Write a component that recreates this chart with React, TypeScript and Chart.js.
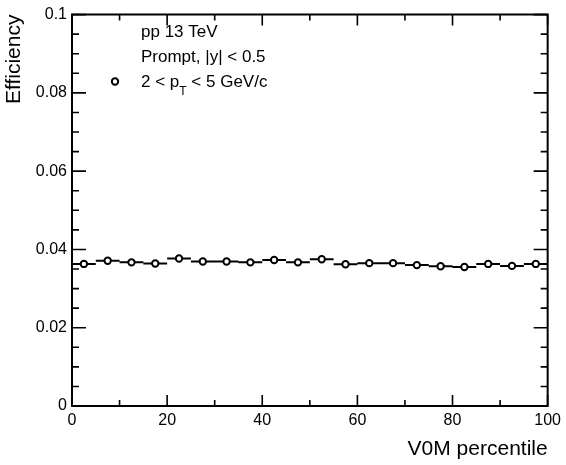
import React, { useEffect, useRef } from "react";
import { Chart, registerables } from "chart.js";

Chart.register(...registerables);

// V0M percentile bin centres and half-widths
const binCenters = [2.5, 7.5, 12.5, 17.5, 22.5, 27.5, 32.5, 37.5, 42.5, 47.5, 52.5, 57.5, 62.5, 67.5, 72.5, 77.5, 82.5, 87.5, 92.5, 97.5];
const binHalfWidth = [2.5, 2.5, 2.5, 2.5, 2.5, 2.5, 2.5, 2.5, 2.5, 2.5, 2.5, 2.5, 2.5, 2.5, 2.5, 2.5, 2.5, 2.5, 2.5, 2.5];
const efficiency = [0.0363, 0.0371, 0.0367, 0.0364, 0.0377, 0.0369, 0.0369, 0.0367, 0.0373, 0.0367, 0.0375, 0.0362, 0.0365, 0.0365, 0.0360, 0.0357, 0.0355, 0.0363, 0.0358, 0.0363];
const effErr = [0.0003, 0.0003, 0.0003, 0.0003, 0.0003, 0.0003, 0.0003, 0.0003, 0.0003, 0.0003, 0.0003, 0.0003, 0.0003, 0.0003, 0.0003, 0.0003, 0.0003, 0.0003, 0.0003, 0.0003];

const xMajorTicks = [0, 20, 40, 60, 80, 100];
const xMinorTicks = [10, 30, 50, 70, 90];
const yMajorTicks = [0, 0.02, 0.04, 0.06, 0.08, 0.1];
const yMinorTicks = [0.005, 0.01, 0.015, 0.025, 0.03, 0.035, 0.045, 0.05, 0.055, 0.065, 0.07, 0.075, 0.085, 0.09, 0.095];

const legendLines = ["pp 13 TeV", "Prompt, |y| < 0.5"];

const FONT = "'Liberation Sans', Arial, Helvetica, sans-serif";

const rootStylePlugin = {
  id: "rootStyle",
  beforeDatasetsDraw(chart: any) {
    const ctx = chart.ctx;
    const xs = chart.scales.x;
    const ys = chart.scales.y;
    ctx.save();
    ctx.strokeStyle = "#000";
    ctx.lineWidth = 2;
    ctx.beginPath();
    binCenters.forEach((c, i) => {
      const y = ys.getPixelForValue(efficiency[i]);
      ctx.moveTo(xs.getPixelForValue(c - binHalfWidth[i]), y);
      ctx.lineTo(xs.getPixelForValue(c + binHalfWidth[i]), y);
      const x = xs.getPixelForValue(c);
      ctx.moveTo(x, ys.getPixelForValue(efficiency[i] - effErr[i]));
      ctx.lineTo(x, ys.getPixelForValue(efficiency[i] + effErr[i]));
    });
    ctx.stroke();
    ctx.restore();
  },
  afterDraw(chart: any) {
    const ctx = chart.ctx;
    const xs = chart.scales.x;
    const ys = chart.scales.y;
    const a = chart.chartArea;
    ctx.save();
    ctx.strokeStyle = "#000";
    ctx.lineWidth = 2;
    ctx.beginPath();
    ctx.rect(a.left, a.top, a.right - a.left, a.bottom - a.top);
    ctx.stroke();
    ctx.lineWidth = 1.6;
    ctx.beginPath();
    const xt = (v: number, len: number) => {
      const x = xs.getPixelForValue(v);
      ctx.moveTo(x, a.bottom);
      ctx.lineTo(x, a.bottom - len);
      ctx.moveTo(x, a.top);
      ctx.lineTo(x, a.top + len);
    };
    const yt = (v: number, len: number) => {
      const y = ys.getPixelForValue(v);
      ctx.moveTo(a.left, y);
      ctx.lineTo(a.left + len, y);
      ctx.moveTo(a.right, y);
      ctx.lineTo(a.right - len, y);
    };
    xMajorTicks.forEach((v) => xt(v, 11));
    xMinorTicks.forEach((v) => xt(v, 6));
    yMajorTicks.forEach((v) => yt(v, 14));
    yMinorTicks.forEach((v) => yt(v, 7));
    ctx.stroke();

    // legend / labels
    ctx.fillStyle = "#000";
    ctx.font = `17px ${FONT}`;
    ctx.textBaseline = "alphabetic";
    ctx.textAlign = "left";
    ctx.fillText(legendLines[0], 141, 37);
    ctx.fillText(legendLines[1], 141, 62);
    // marker
    ctx.beginPath();
    ctx.arc(115, 81.5, 3.2, 0, Math.PI * 2);
    ctx.fillStyle = "#fff";
    ctx.fill();
    ctx.lineWidth = 2;
    ctx.strokeStyle = "#000";
    ctx.stroke();
    ctx.fillStyle = "#000";
    let x = 141;
    const parts: [string, number, number][] = [
      ["2 < p", 17, 87],
      ["T", 12, 95],
      [" < 5 GeV/c", 17, 87],
    ];
    parts.forEach(([t, s, y]) => {
      ctx.font = `${s}px ${FONT}`;
      ctx.fillText(t, x, y);
      x += ctx.measureText(t).width;
    });
    ctx.restore();
  },
};

export default function App() {
  const ref = useRef<HTMLCanvasElement | null>(null);
  useEffect(() => {
    if (!ref.current) return;
    const chart = new Chart(ref.current, {
      type: "scatter",
      data: {
        datasets: [
          {
            label: "2 < pT < 5 GeV/c",
            data: binCenters.map((c, i) => ({ x: c, y: efficiency[i] })),
            pointRadius: 3.2,
            pointBorderWidth: 2,
            pointBackgroundColor: "#fff",
            pointBorderColor: "#000",
            showLine: false,
          },
        ],
      },
      options: {
        animation: false,
        responsive: false,
        devicePixelRatio: 1,
        layout: { padding: { top: 7.5, right: 18, left: 0, bottom: 0 } },
        plugins: { legend: { display: false }, tooltip: { enabled: false } },
        scales: {
          x: {
            type: "linear",
            min: 0,
            max: 100,
            afterFit: (s: any) => { s.height = 59; },
            afterBuildTicks: (s: any) => { s.ticks = xMajorTicks.map((v) => ({ value: v })); },
            grid: { display: false, drawTicks: false },
            border: { display: false },
            ticks: { padding: 5, color: "#000", font: { family: FONT, size: 16 }, callback: (v: any) => String(v), maxRotation: 0 },
            title: { display: true, text: "V0M percentile", align: "end", color: "#000", font: { family: FONT, size: 21 }, padding: { top: 0, bottom: 3 } },
          },
          y: {
            type: "linear",
            min: 0,
            max: 0.1,
            afterFit: (s: any) => { s.width = 72; },
            afterBuildTicks: (s: any) => { s.ticks = yMajorTicks.map((v) => ({ value: v })); },
            grid: { display: false, drawTicks: false },
            border: { display: false },
            ticks: { padding: 5, color: "#000", font: { family: FONT, size: 16 }, callback: (v: any) => String(+Number(v).toFixed(3)) },
            title: { display: true, text: "Efficiency", align: "end", color: "#000", font: { family: FONT, size: 21 }, padding: { top: 2, bottom: 0 } },
          },
        },
      },
      plugins: [rootStylePlugin],
    });
    return () => chart.destroy();
  }, []);
  return (
    <div style={{ position: "absolute", left: 0, top: 0, width: 566, height: 465, background: "#fff" }}>
      <canvas ref={ref} width={566} height={465} style={{ display: "block" }} />
    </div>
  );
}
